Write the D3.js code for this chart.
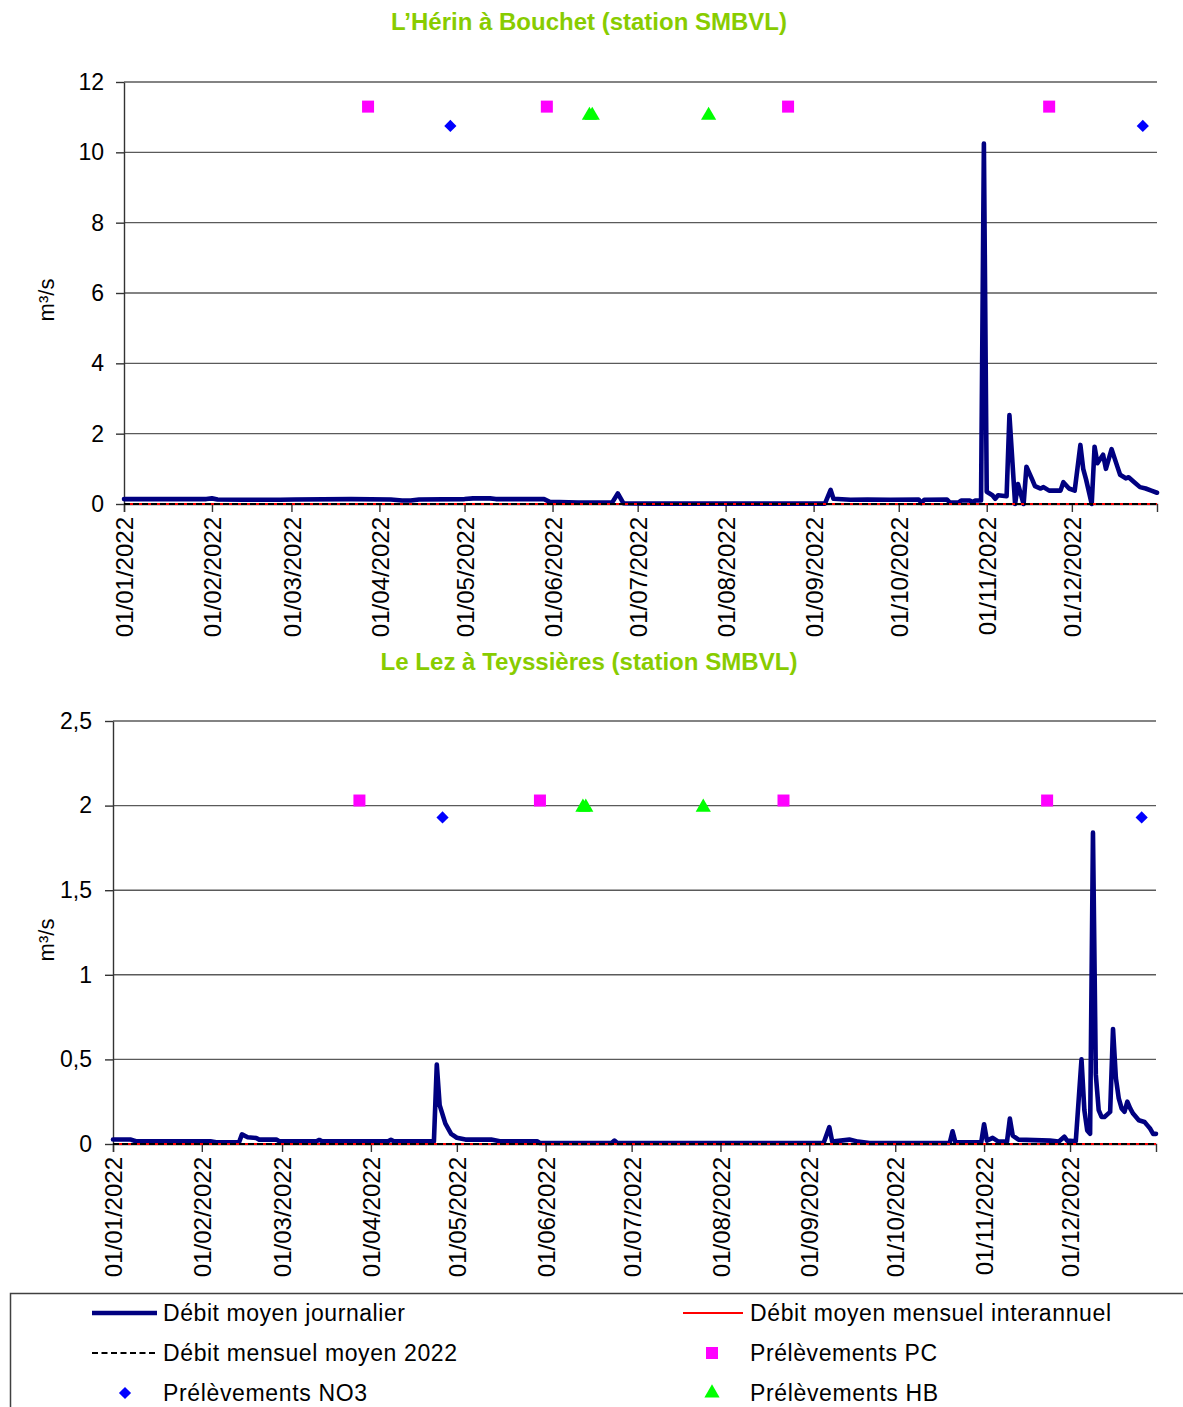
<!DOCTYPE html>
<html>
<head>
<meta charset="utf-8">
<script src="https://cdn.jsdelivr.net/npm/d3@7"></script>
<style>
body { margin:0; background:#fff; }
text { font-family:"Liberation Sans", Arial, sans-serif; }
</style>
</head>
<body>
<svg id="chart" width="1183" height="1407"></svg>
<script>
// ---- data ----
var monthTicks = ["01/01/2022","01/02/2022","01/03/2022","01/04/2022","01/05/2022","01/06/2022",
  "01/07/2022","01/08/2022","01/09/2022","01/10/2022","01/11/2022","01/12/2022"];
var yearEnd = "31/12/2022";

var herinYTicks = [0,2,4,6,8,10,12];
var lezYTicks = [0,0.5,1,1.5,2,2.5];

// Débit moyen journalier, L'Hérin à Bouchet
var herinDates = ["2022-01-01","2022-01-30","2022-02-01","2022-02-03","2022-02-12","2022-02-25","2022-03-02",
  "2022-03-22","2022-04-05","2022-04-09","2022-04-12","2022-04-15","2022-05-01","2022-05-04","2022-05-10",
  "2022-05-12","2022-05-29","2022-05-31","2022-06-10","2022-06-22","2022-06-24","2022-06-26","2022-07-05",
  "2022-09-05","2022-09-07","2022-09-08","2022-09-14","2022-09-20","2022-09-28","2022-10-08","2022-10-09",
  "2022-10-10","2022-10-18","2022-10-19","2022-10-22","2022-10-23","2022-10-26","2022-10-27","2022-10-28",
  "2022-10-30","2022-10-31","2022-11-01","2022-11-03","2022-11-04","2022-11-05","2022-11-08","2022-11-09",
  "2022-11-11","2022-11-12","2022-11-14","2022-11-15","2022-11-17","2022-11-18","2022-11-20","2022-11-21",
  "2022-11-23","2022-11-27","2022-11-28","2022-11-30","2022-12-02","2022-12-04","2022-12-05","2022-12-06",
  "2022-12-08","2022-12-09","2022-12-10","2022-12-12","2022-12-13","2022-12-15","2022-12-17","2022-12-18",
  "2022-12-20","2022-12-21","2022-12-23","2022-12-25","2022-12-27","2022-12-29","2022-12-31"];
var herinFlow = [0.14,0.14,0.16,0.13,0.12,0.12,0.13,
  0.14,0.13,0.10,0.10,0.13,0.14,0.16,0.16,
  0.14,0.14,0.06,0.04,0.04,0.30,0.02,0.01,
  0.01,0.40,0.15,0.12,0.13,0.12,0.13,0.03,
  0.12,0.13,0.04,0.04,0.10,0.10,0.05,0.10,
  0.10,10.25,0.35,0.25,0.15,0.25,0.22,2.53,
  0.0,0.57,0.0,1.06,0.70,0.51,0.44,0.48,
  0.38,0.38,0.62,0.44,0.38,1.68,1.00,0.70,
  0.0,1.63,1.16,1.40,1.00,1.56,1.07,0.83,
  0.73,0.76,0.62,0.48,0.44,0.38,0.32];

// Débit moyen journalier, Le Lez à Teyssières
var lezDates = ["2022-01-01","2022-01-07","2022-01-09","2022-02-04","2022-02-06","2022-02-14","2022-02-15",
  "2022-02-17","2022-02-20","2022-02-21","2022-02-27","2022-02-28","2022-03-13","2022-03-14","2022-03-15",
  "2022-04-07","2022-04-08","2022-04-09","2022-04-23","2022-04-24","2022-04-25","2022-04-27","2022-04-29",
  "2022-05-01","2022-05-04","2022-05-13","2022-05-16","2022-05-29","2022-05-30","2022-06-24","2022-06-25",
  "2022-06-26","2022-09-06","2022-09-08","2022-09-09","2022-09-15","2022-09-18","2022-09-22","2022-10-20",
  "2022-10-21","2022-10-22","2022-10-31","2022-11-01","2022-11-02","2022-11-04","2022-11-06","2022-11-09",
  "2022-11-10","2022-11-11","2022-11-13","2022-11-24","2022-11-27","2022-11-29","2022-11-30","2022-12-03",
  "2022-12-05","2022-12-06","2022-12-07","2022-12-08","2022-12-09","2022-12-10","2022-12-11","2022-12-12",
  "2022-12-13","2022-12-15","2022-12-16","2022-12-17","2022-12-18","2022-12-19","2022-12-20","2022-12-21",
  "2022-12-22","2022-12-23","2022-12-25","2022-12-27","2022-12-28","2022-12-29","2022-12-30","2022-12-31"];
var lezFlow = [0.027,0.027,0.016,0.016,0.010,0.010,0.057,
  0.040,0.035,0.026,0.026,0.016,0.016,0.024,0.016,
  0.016,0.025,0.016,0.016,0.47,0.23,0.12,0.06,
  0.037,0.026,0.026,0.016,0.016,0.006,0.006,0.020,
  0.006,0.006,0.10,0.014,0.026,0.014,0.006,0.006,
  0.075,0.010,0.010,0.117,0.020,0.036,0.014,0.014,
  0.15,0.05,0.026,0.020,0.014,0.043,0.020,0.016,
  0.50,0.20,0.08,0.06,1.84,0.41,0.20,0.16,
  0.16,0.19,0.68,0.39,0.27,0.21,0.19,0.25,
  0.21,0.18,0.14,0.13,0.11,0.09,0.06,0.06];

// monthly lines (both sit on zero)
var interannuelMonthly = [0,0,0,0,0,0,0,0,0,0,0,0];
var mensuel2022 = [0,0,0,0,0,0,0,0,0,0,0,0];

// sampling dates
var pcDates = ["2022-03-28","2022-05-30","2022-08-23","2022-11-23"];
var no3Dates = ["2022-04-26","2022-12-26"];
var hbDates = ["2022-06-14","2022-06-15","2022-07-26"];
// plotting level of the sampling markers
var herinMarkerLevels = [11.3, 10.75, 11.05];  // PC, NO3, HB
var lezMarkerLevels = [2.03, 1.93, 1.99];

var parseIso = d3.timeParse("%Y-%m-%d");
var parseFr = d3.timeParse("%d/%m/%Y");
var svg = d3.select("#chart");

function frNum(v) { return String(v).replace(".", ","); }

function drawChart(cfg) {
  var g = svg.append("g");
  var monthDates = monthTicks.map(parseFr);
  var endDate = parseFr(yearEnd);

  var x = d3.scaleTime().domain([monthDates[0], endDate]).range([cfg.left, cfg.right]);
  var y = d3.scaleLinear().domain([0, cfg.yMax]).range([cfg.bottom, cfg.top]);

  // title
  g.append("text")
    .attr("x", 589).attr("y", cfg.titleY)
    .attr("text-anchor", "middle")
    .attr("textLength", cfg.titleLen).attr("lengthAdjust", "spacingAndGlyphs")
    .style("font-family", "'Liberation Sans Narrow','Arial Narrow','Liberation Sans',Arial,sans-serif")
    .style("font-weight", "bold").style("font-size", "23px")
    .attr("fill", "#88cc00")
    .text(cfg.title);

  // gridlines
  g.append("g").selectAll("line").data(cfg.yTicks.filter(function(d){ return d > 0; }))
    .enter().append("line")
    .attr("x1", cfg.left).attr("x2", cfg.right)
    .attr("y1", function(d){ return y(d); }).attr("y2", function(d){ return y(d); })
    .attr("stroke", "#5a5a5a").attr("stroke-width", 1.4);

  // y axis
  var yAx = g.append("g").attr("transform", "translate(" + cfg.left + ",0)")
    .call(d3.axisLeft(y).tickValues(cfg.yTicks).tickSize(8).tickSizeOuter(0)
      .tickPadding(cfg.yPad).tickFormat(frNum));
  yAx.selectAll("path,line").attr("stroke", "#333").attr("stroke-width", 1.4);
  yAx.selectAll("text").style("font-size", "23px").attr("fill", "#000")
    .style("font-family", "'Liberation Sans',Arial,sans-serif");

  // x axis
  var xAx = g.append("g").attr("transform", "translate(0," + cfg.bottom + ")")
    .call(d3.axisBottom(x).tickValues(monthDates).tickSize(8).tickSizeOuter(8)
      .tickFormat(d3.timeFormat("%d/%m/%Y")));
  xAx.selectAll("path,line").attr("stroke", "#333").attr("stroke-width", 1.4);
  xAx.selectAll("text")
    .attr("transform", "rotate(-90)")
    .attr("x", -13).attr("y", 0).attr("dy", "0.36em")
    .style("text-anchor", "end").style("font-size", "24px").attr("fill", "#000")
    .style("font-family", "'Liberation Sans',Arial,sans-serif");

  // y title
  g.append("text")
    .attr("transform", "translate(" + cfg.yTitleX + "," + cfg.yTitleY + ") rotate(-90)")
    .attr("text-anchor", "middle")
    .style("font-size", "22px")
    .text("m³/s");

  // daily flow
  var series = cfg.dates.map(function(d, i){ return {date: parseIso(d), q: cfg.flow[i]}; });
  var line = d3.line().x(function(d){ return x(d.date); }).y(function(d){ return y(d.q); });
  g.append("path").datum(series)
    .attr("d", line)
    .attr("fill", "none").attr("stroke", "#000080").attr("stroke-width", 4.6)
    .attr("stroke-linejoin", "round").attr("stroke-linecap", "round");

  // monthly lines
  function monthly(vals) {
    var pts = monthDates.map(function(d, i){ return {date: d, q: vals[i]}; });
    pts.push({date: endDate, q: vals[vals.length - 1]});
    return pts;
  }
  g.append("path").datum(monthly(interannuelMonthly))
    .attr("d", line).attr("fill", "none").attr("stroke", "#ff0000").attr("stroke-width", 2);
  g.append("path").datum(monthly(mensuel2022))
    .attr("d", line).attr("fill", "none").attr("stroke", "#000").attr("stroke-width", 2)
    .attr("stroke-dasharray", "6,3");

  // sampling markers
  var lv = cfg.levels;
  g.append("g").selectAll("rect").data(pcDates).enter().append("rect")
    .attr("x", function(d){ return x(parseIso(d)) - 6; })
    .attr("y", y(lv[0]) - 6)
    .attr("width", 12).attr("height", 12).attr("fill", "#ff00ff");
  g.append("g").selectAll("path").data(no3Dates).enter().append("path")
    .attr("d", d3.symbol().type(d3.symbolDiamond2).size(95))
    .attr("transform", function(d){ return "translate(" + x(parseIso(d)) + "," + y(lv[1]) + ")"; })
    .attr("fill", "#0000ff");
  g.append("g").selectAll("path").data(hbDates).enter().append("path")
    .attr("d", d3.symbol().type(d3.symbolTriangle).size(100))
    .attr("transform", function(d){ return "translate(" + x(parseIso(d)) + "," + y(lv[2]) + ")"; })
    .attr("fill", "#00ff00");
}

drawChart({
  title: "L\u2019Hérin à Bouchet (station SMBVL)", titleY: 30, titleLen: 396,
  left: 124, right: 1157, top: 82, bottom: 504, yMax: 12, yTicks: herinYTicks, yPad: 12,
  yTitleX: 54, yTitleY: 300,
  dates: herinDates, flow: herinFlow, levels: herinMarkerLevels
});
drawChart({
  title: "Le Lez à Teyssières (station SMBVL)", titleY: 670, titleLen: 417,
  left: 113, right: 1156, top: 721, bottom: 1144, yMax: 2.5, yTicks: lezYTicks, yPad: 13,
  yTitleX: 54, yTitleY: 940,
  dates: lezDates, flow: lezFlow, levels: lezMarkerLevels
});

// ---- legend ----
var leg = svg.append("g");
leg.append("rect").attr("x", 10.5).attr("y", 1293.5).attr("width", 1200).attr("height", 200)
  .attr("fill", "#fff").attr("stroke", "#404040").attr("stroke-width", 1.5);

var legendItems = [
  {label: "Débit moyen journalier", x: 163, y: 1313, len: 242, sym: "navy"},
  {label: "Débit mensuel moyen 2022", x: 163, y: 1353, len: 294, sym: "dash"},
  {label: "Prélèvements NO3", x: 163, y: 1393, len: 204, sym: "diamond"},
  {label: "Débit moyen mensuel interannuel", x: 750, y: 1313, len: 361, sym: "red"},
  {label: "Prélèvements PC", x: 750, y: 1353, len: 187, sym: "square"},
  {label: "Prélèvements HB", x: 750, y: 1393, len: 188, sym: "triangle"}
];
legendItems.forEach(function(it) {
  leg.append("text").attr("x", it.x).attr("y", it.y + 8)
    .attr("textLength", it.len).attr("lengthAdjust", "spacing")
    .style("font-size", "23px").attr("fill", "#000").text(it.label);
  if (it.sym == "navy") {
    leg.append("line").attr("x1", 92).attr("x2", 157).attr("y1", it.y).attr("y2", it.y)
      .attr("stroke", "#000080").attr("stroke-width", 4.6);
  } else if (it.sym == "dash") {
    leg.append("line").attr("x1", 92).attr("x2", 157).attr("y1", it.y).attr("y2", it.y)
      .attr("stroke", "#000").attr("stroke-width", 2).attr("stroke-dasharray", "6,3.5");
  } else if (it.sym == "red") {
    leg.append("line").attr("x1", 683).attr("x2", 743).attr("y1", it.y).attr("y2", it.y)
      .attr("stroke", "#ff0000").attr("stroke-width", 2);
  } else if (it.sym == "diamond") {
    leg.append("path").attr("d", d3.symbol().type(d3.symbolDiamond2).size(95))
      .attr("transform", "translate(125," + it.y + ")").attr("fill", "#0000ff");
  } else if (it.sym == "square") {
    leg.append("rect").attr("x", 706).attr("y", it.y - 6).attr("width", 12).attr("height", 12)
      .attr("fill", "#ff00ff");
  } else {
    leg.append("path").attr("d", d3.symbol().type(d3.symbolTriangle).size(100))
      .attr("transform", "translate(712," + it.y + ")").attr("fill", "#00ff00");
  }
});
</script>
</body>
</html>
